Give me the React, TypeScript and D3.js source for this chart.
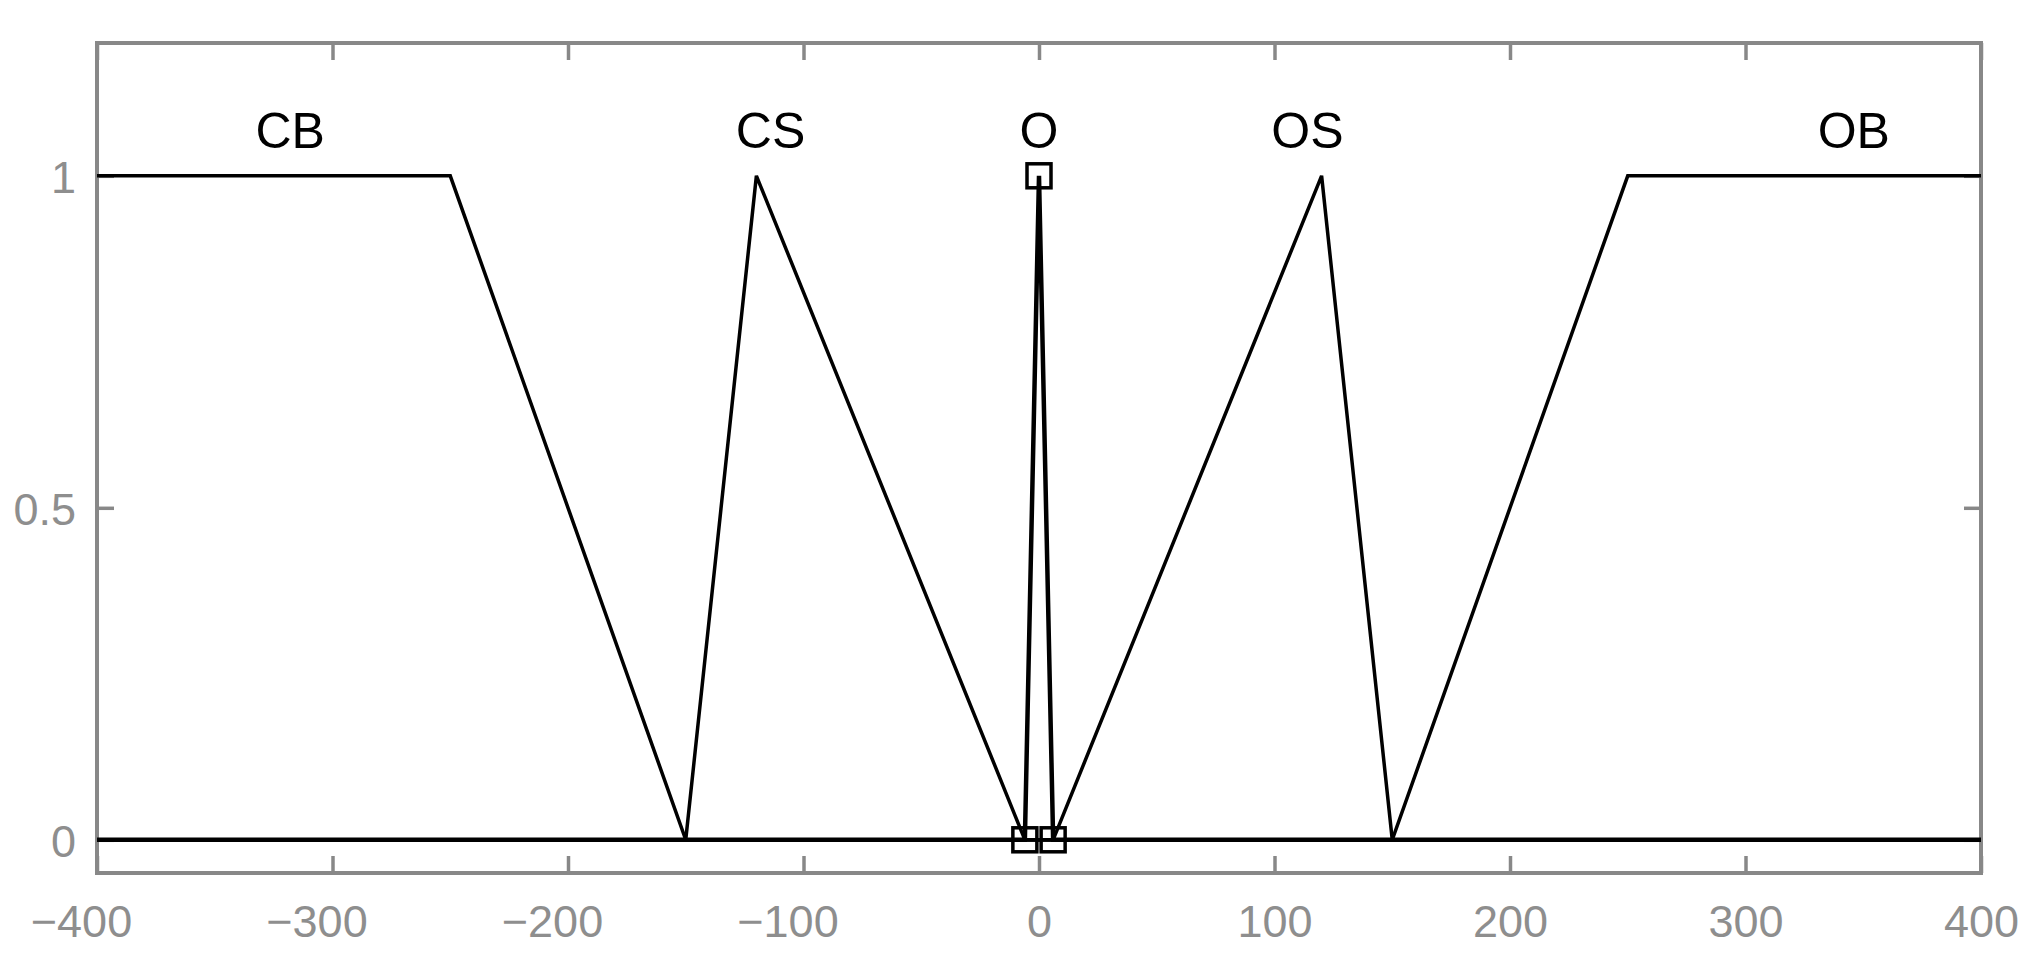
import * as d3 from 'd3';
import React, {useRef, useEffect} from 'react';

// membership functions (trapmf: a b c d, trimf: a b c)
const mfNames = ['CB', 'CS', 'O', 'OS', 'OB'];
const cbParams = [-400, -400, -250, -150];
const csParams = [-150, -120, -6];
const oParams = [-6, 0, 6];
const osParams = [6, 120, 150];
const obParams = [150, 250, 400, 400];
const labelX = [-318, -114, 0, 114, 346];

const xTicks = [-400, -300, -200, -100, 0, 100, 200, 300, 400];
const yTicks = [0, 0.5, 1];
const selected = 'O';

function trapmf(x: number, p: number[]) {
    const [a, b, c, d] = p;
    if (x >= b && x <= c) return 1;
    if (x <= a || x >= d) return 0;
    if (x < b) return (x - a) / (b - a);
    return (d - x) / (d - c);
}
function trimf(x: number, p: number[]) {
    return trapmf(x, [p[0], p[1], p[1], p[2]]);
}

function App() {
    const ref = useRef<SVGSVGElement>(null);

    useEffect(() => {
        const W = 2035, H = 961;
        const margin = {top: 43, right: 54, bottom: 88, left: 97};
        const width = W - margin.left - margin.right,
            height = H - margin.top - margin.bottom;

        const root = d3.select(ref.current);
        root.selectAll('*').remove();
        const svg = root.append('g')
            .attr('transform', `translate(${margin.left}, ${margin.top})`);

        const x = d3.scaleLinear().domain([-400, 400]).range([0, width]);
        const y = d3.scaleLinear().domain([-0.05, 1.2]).range([height, 0]);

        const axisColor = '#888888';
        const labelColor = '#8e8e8e';
        const tickLen = 17;

        // bottom axis labels + ticks
        const bottom = svg.append('g')
            .attr('transform', `translate(0, ${height})`)
            .call(d3.axisBottom(x).tickValues(xTicks).tickSize(-tickLen).tickPadding(0)
                .tickFormat(d => (d as number) < 0 ? '\u2212' + Math.abs(d as number) : String(d)));
        bottom.select('.domain').remove();
        bottom.selectAll('line').attr('stroke', axisColor).attr('stroke-width', 3.5);
        bottom.selectAll('text')
            .attr('y', 64)
            .attr('dy', 0)
            .attr('dx', d => (d as number) < 0 ? -16 : 0)
            .attr('fill', labelColor)
            .style('font-family', '"Liberation Sans", Arial, sans-serif')
            .style('font-size', '45px');

        // top ticks
        const top = svg.append('g')
            .call(d3.axisTop(x).tickValues(xTicks).tickSize(-tickLen).tickFormat(() => ''));
        top.select('.domain').remove();
        top.selectAll('line').attr('stroke', axisColor).attr('stroke-width', 3.5);

        // left axis
        const left = svg.append('g')
            .call(d3.axisLeft(y).tickValues(yTicks).tickSize(-tickLen).tickPadding(0)
                .tickFormat(d => String(d)));
        left.select('.domain').remove();
        left.selectAll('line').attr('stroke', axisColor).attr('stroke-width', 3.5);
        left.selectAll('text')
            .attr('x', -21)
            .attr('dy', '0.36em')
            .attr('fill', labelColor)
            .style('font-family', '"Liberation Sans", Arial, sans-serif')
            .style('font-size', '45px');

        // right ticks
        const right = svg.append('g')
            .attr('transform', `translate(${width}, 0)`)
            .call(d3.axisRight(y).tickValues(yTicks).tickSize(-tickLen).tickFormat(() => ''));
        right.select('.domain').remove();
        right.selectAll('line').attr('stroke', axisColor).attr('stroke-width', 3.5);

        // box
        svg.append('rect')
            .attr('x', 0).attr('y', 0)
            .attr('width', width).attr('height', height)
            .attr('fill', 'none')
            .attr('stroke', axisColor)
            .attr('stroke-width', 4);

        const mfs = [
            {name: 'CB', f: trapmf, p: cbParams},
            {name: 'CS', f: trimf, p: csParams},
            {name: 'O', f: trimf, p: oParams},
            {name: 'OS', f: trimf, p: osParams},
            {name: 'OB', f: trapmf, p: obParams},
        ];

        const line = d3.line<[number, number]>()
            .x(d => x(d[0]))
            .y(d => y(d[1]));

        mfs.forEach(mf => {
            const xs = Array.from(new Set([-400, 400, ...mf.p])).sort((a, b) => a - b);
            const pts: [number, number][] = xs.map(v => [v, mf.f(v, mf.p)]);
            svg.append('path')
                .attr('d', line(pts))
                .attr('fill', 'none')
                .attr('stroke', '#000')
                .attr('stroke-width', mf.name === selected ? 4.5 : 3.5)
                .attr('stroke-linejoin', 'miter');
        });

        // vertex markers of the selected mf
        const sel = mfs.find(m => m.name === selected)!;
        const sq = 24;
        svg.selectAll('rect.marker')
            .data(sel.p)
            .enter()
            .append('rect')
            .attr('class', 'marker')
            .attr('x', d => x(d) - sq / 2)
            .attr('y', d => y(sel.f(d, sel.p)) - sq / 2)
            .attr('width', sq)
            .attr('height', sq)
            .attr('fill', 'none')
            .attr('stroke', '#000')
            .attr('stroke-width', 3.5);

        // mf names
        svg.selectAll('text.mfname')
            .data(mfNames)
            .enter()
            .append('text')
            .attr('class', 'mfname')
            .attr('x', (d, i) => x(labelX[i]))
            .attr('y', y(1) - 28)
            .attr('text-anchor', 'middle')
            .attr('fill', '#000')
            .style('font-family', '"Liberation Sans", Arial, sans-serif')
            .style('font-size', '50px')
            .text(d => d);
    }, []);

    return (
        <div className="chart" style={{position: 'absolute', left: 0, top: 0}}>
            <svg ref={ref} width={2035} height={961} style={{display: 'block', background: '#fff'}}>
            </svg>
        </div>
    );
}

export default App;
